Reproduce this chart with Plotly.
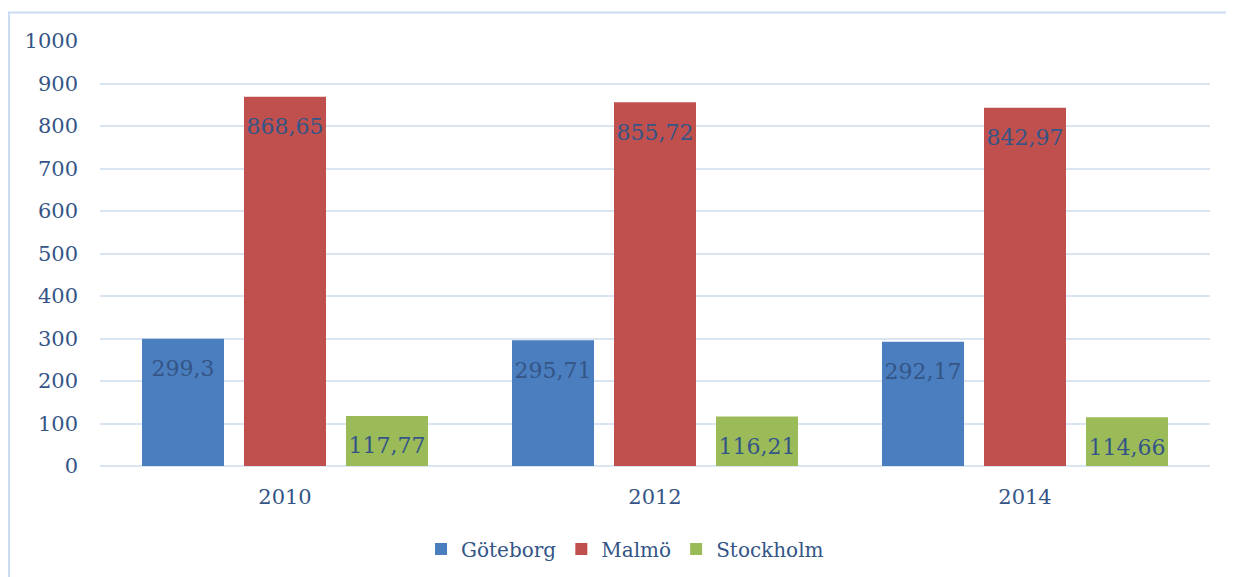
import plotly.graph_objects as go

years = ["2010", "2012", "2014"]
goteborg = [299.3, 295.71, 292.17]
malmo = [868.65, 855.72, 842.97]
stockholm = [117.77, 116.21, 114.66]
series_names = ["Göteborg", "Malmö", "Stockholm"]
colors = ["#4A7EBF", "#C0504D", "#9BBB59"]
y_ticks = [0, 100, 200, 300, 400, 500, 600, 700, 800, 900, 1000]

FONT = "DejaVu Serif"
TXT = "#345586"

def lab(v):
    return str(v).replace(".", ",")

fig = go.Figure()
for name, vals, col in zip(series_names, [goteborg, malmo, stockholm], colors):
    fig.add_trace(go.Bar(
        x=years, y=vals, name=name,
        marker=dict(color=col, line=dict(width=0)),
        hoverinfo="x+y+name",
    ))
for name, vals in zip(series_names, [goteborg, malmo, stockholm]):
    fig.add_trace(go.Scatter(
        x=years, y=vals, mode="markers+text", showlegend=False,
        text=[lab(v) for v in vals], textposition="bottom center",
        textfont=dict(family=FONT, size=22, color=TXT),
        marker=dict(size=32, color="rgba(0,0,0,0)"),
        hoverinfo="skip",
    ))

fig.update_layout(
    width=1234, height=577,
    margin=dict(l=92, r=32, t=33, b=119),
    paper_bgcolor="white", plot_bgcolor="white",
    barmode="group", bargap=0.173, bargroupgap=0.196,
    scattermode="group", scattergap=0.173,
    font=dict(family=FONT, size=20, color=TXT),
    showlegend=True,
    legend=dict(orientation="h", x=0.473, xanchor="center", y=-0.195, yanchor="middle",
                font=dict(family=FONT, size=20, color=TXT)),
    xaxis=dict(showgrid=False, showline=False, ticks="", ticklabelstandoff=16,
               tickfont=dict(family=FONT, size=21, color=TXT)),
    yaxis=dict(range=[0, 1000], tickvals=y_ticks, showgrid=True, gridcolor="#DAE5F2",
               gridwidth=1.5, zeroline=True, zerolinecolor="#DAE5F2", zerolinewidth=1.5,
               showline=False, ticks="", ticklabelstandoff=21,
               tickfont=dict(family=FONT, size=21, color=TXT)),
    shapes=[
        dict(type="line", xref="paper", yref="paper", x0=-0.083, x1=1.1, y0=1.067, y1=1.067,
             line=dict(color="#C9DCF0", width=2)),
        dict(type="line", xref="paper", yref="paper", x0=-0.082, x1=-0.082, y0=1.067, y1=-0.5,
             line=dict(color="#C9DCF0", width=2)),
    ],
)

fig.write_html("out.html")
